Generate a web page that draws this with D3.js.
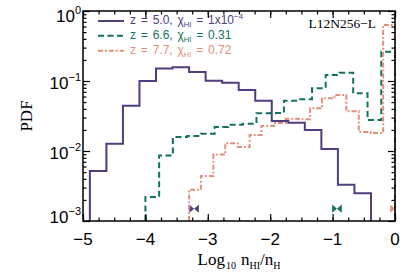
<!DOCTYPE html>
<html>
<head>
<meta charset="utf-8">
<script src="https://cdn.jsdelivr.net/npm/d3@7"></script>
<style>
body { margin: 0; background: #fff; }
svg { display: block; }
</style>
</head>
<body>
<script>
//histogram bin edges (log10 nHI/nH) and PDF values
var purpleEdges = [-4.89, -4.625, -4.36, -4.095, -3.83, -3.565, -3.30, -3.035, -2.77, -2.505, -2.24, -1.975, -1.71, -1.445, -1.18, -0.915, -0.65, -0.385];
var purpleValues = [0.0052, 0.0127, 0.0444, 0.100, 0.151, 0.157, 0.134, 0.101, 0.0946, 0.0744, 0.0523, 0.0268, 0.0254, 0.0200, 0.0107, 0.0033, 0.0025];

var greenEdges = [-4, -3.78, -3.56, -3.33, -3.11, -2.89, -2.67, -2.44, -2.22, -2.0, -1.78, -1.56, -1.33, -1.11, -0.89, -0.67, -0.44, -0.22, 0];
var greenValues = [0.0022, 0.0086, 0.0158, 0.0164, 0.0177, 0.0220, 0.0237, 0.0245, 0.0346, 0.0348, 0.0523, 0.0548, 0.0786, 0.122, 0.131, 0.0667, 0.0277, 0.262];

var orangeEdges = [-3.30, -3.11, -2.91, -2.72, -2.52, -2.33, -2.14, -1.94, -1.75, -1.55, -1.36, -1.17, -0.97, -0.78, -0.58, -0.39, -0.19, 0];
var orangeValues = [0.0028, 0.0044, 0.0089, 0.0129, 0.0114, 0.0169, 0.0228, 0.0251, 0.0290, 0.0285, 0.0407, 0.0566, 0.063, 0.0370, 0.0187, 0.0181, 0.631];

//legend entries
var redshifts = ["5.0", "6.6", "7.7"];
var xHI = ["1x10", "0.31", "0.72"];
var xHIexp = ["\u22124", "", ""];

//bow-tie markers along the bottom
var markerX = [-3.22, -0.93, 0.0];
var markerY = 0.0015;

//axes
var xTicks = [-5, -4, -3, -2, -1, 0];
var yTicks = [1e-3, 1e-2, 1e-1, 1];
var yTickExp = ["\u22123", "\u22122", "\u22121", "0"];

var colors = ["#4f3d7f", "#12735c", "#e2907c"];
var dashes = [null, "6,3.5", "5,2,1.8,2"];

var width = 415, height = 277;
var margin = {left: 83, right: 20, top: 11, bottom: 56};
var sans = "'Liberation Sans', Arial, sans-serif";
var serif = "'Liberation Serif', 'Times New Roman', serif";

var svg = d3.select("body").append("svg")
    .attr("width", width)
    .attr("height", height);

var x = d3.scaleLinear().domain([-5, 0]).range([margin.left, width - margin.right]);
var y = d3.scaleLog().domain([1e-3, 1]).range([height - margin.bottom, margin.top]);

var x0 = x.range()[0], x1 = x.range()[1];
var yb = y.range()[0], yt = y.range()[1];

svg.append("clipPath").attr("id", "plotClip")
    .append("rect")
    .attr("x", x0).attr("y", yt)
    .attr("width", x1 - x0).attr("height", yb - yt);

//step histogram as a path
function stepPoints(edges, values) {
    var pts = [[edges[0], null]];
    values.forEach(function(v, i) {
        pts.push([edges[i], v]);
        pts.push([edges[i + 1], v]);
    });
    pts.push([edges[edges.length - 1], null]);
    return pts;
}
var line = d3.line()
    .x(function(d) { return x(d[0]); })
    .y(function(d) { return d[1] === null ? yb : y(d[1]); });

var series = [
    [purpleEdges, purpleValues],
    [greenEdges, greenValues],
    [orangeEdges, orangeValues]
];

//markers (under the lines, clipped to frame)
svg.append("g").attr("clip-path", "url(#plotClip)")
    .selectAll("path")
    .data(markerX)
    .enter()
    .append("path")
    .attr("d", function(d) {
        var cx = x(d), cy = y(markerY), w = 4.8, h = 4.2;
        return "M" + (cx - w) + "," + (cy - h) + "L" + cx + "," + cy + "L" + (cx - w) + "," + (cy + h) + "Z" +
               "M" + (cx + w) + "," + (cy - h) + "L" + cx + "," + cy + "L" + (cx + w) + "," + (cy + h) + "Z";
    })
    .style("fill", function(d, i) { return colors[i]; });

svg.append("g").selectAll("path.hist")
    .data(series)
    .enter()
    .append("path")
    .attr("class", "hist")
    .attr("d", function(d) { return line(stepPoints(d[0], d[1])); })
    .style("fill", "none")
    .style("stroke", function(d, i) { return colors[i]; })
    .style("stroke-width", 2)
    .style("stroke-dasharray", function(d, i) { return dashes[i]; });

//ticks on all four sides, pointing inwards
var xMinor = d3.range(-5, 0.001, 0.25);
var yMinor = [];
[1e-3, 1e-2, 1e-1].forEach(function(b) {
    for (var k = 2; k <= 9; k++) yMinor.push(b * k);
});

function tickGroup(axis, tx, ty) {
    var g = svg.append("g").attr("transform", "translate(" + tx + "," + ty + ")").call(axis);
    g.select(".domain").remove();
    g.selectAll("text").remove();
    g.selectAll("line").style("stroke", "#000").style("stroke-width", 1.2);
}
tickGroup(d3.axisBottom(x).tickValues(xMinor).tickSize(-3.5), 0, yb);
tickGroup(d3.axisBottom(x).tickValues(xTicks).tickSize(-7), 0, yb);
tickGroup(d3.axisTop(x).tickValues(xMinor).tickSize(-3.5), 0, yt);
tickGroup(d3.axisTop(x).tickValues(xTicks).tickSize(-7), 0, yt);
tickGroup(d3.axisLeft(y).tickValues(yMinor).tickSize(-3.5), x0, 0);
tickGroup(d3.axisLeft(y).tickValues(yTicks).tickSize(-7), x0, 0);
tickGroup(d3.axisRight(y).tickValues(yMinor).tickSize(-3.5), x1, 0);
tickGroup(d3.axisRight(y).tickValues(yTicks).tickSize(-7), x1, 0);

//frame
svg.append("rect")
    .attr("x", x0).attr("y", yt)
    .attr("width", x1 - x0).attr("height", yb - yt)
    .style("fill", "none")
    .style("stroke", "#000")
    .style("stroke-width", 1.5);

//x tick labels
svg.append("g").selectAll("text")
    .data(xTicks)
    .enter()
    .append("text")
    .attr("x", function(d) { return x(d); })
    .attr("y", yb + 24)
    .attr("text-anchor", "middle")
    .style("font-family", sans)
    .style("font-size", "17px")
    .text(function(d) { return d < 0 ? "\u2212" + Math.abs(d) : d; });

//y tick labels: 10^n
var yLabels = svg.append("g").selectAll("text")
    .data(yTicks)
    .enter()
    .append("text")
    .attr("x", x0 - 2)
    .attr("y", function(d) {
        return Math.max(yt + 10.7, Math.min(yb + 1.6, y(d) + 7.8));
    })
    .attr("text-anchor", "end")
    .style("font-family", sans)
    .style("font-size", "17px");
yLabels.append("tspan").text("10");
yLabels.append("tspan")
    .attr("dy", -7.5)
    .style("font-size", "11px")
    .text(function(d, i) { return yTickExp[i]; });

//axis titles
svg.append("text")
    .attr("transform", "translate(32," + ((yt + yb) / 2) + ") rotate(-90)")
    .attr("text-anchor", "middle")
    .style("font-family", serif)
    .style("font-size", "17px")
    .text("PDF");

var xt = svg.append("text")
    .attr("x", (x0 + x1) / 2)
    .attr("y", 265)
    .attr("text-anchor", "middle")
    .style("font-family", serif)
    .style("font-size", "17px");
xt.append("tspan").text("Log");
xt.append("tspan").attr("dy", 4).attr("dx", 1).style("font-size", "10px").text("10");
xt.append("tspan").attr("dy", -4).attr("dx", 5).text("n");
xt.append("tspan").attr("dy", 4).style("font-size", "10px").text("HI");
xt.append("tspan").attr("dy", -4).text("/n");
xt.append("tspan").attr("dy", 4).style("font-size", "10px").text("H");

//run label
svg.append("text")
    .attr("x", 376)
    .attr("y", 28.3)
    .attr("text-anchor", "end")
    .style("font-family", serif)
    .style("font-size", "13.5px")
    .text("L12N256\u2212L");

//legend
var legendY = [21, 35.8, 50.7];
var legend = svg.append("g").selectAll("g")
    .data(redshifts)
    .enter()
    .append("g");
legend.append("line")
    .attr("x1", 98).attr("x2", 124)
    .attr("y1", function(d, i) { return legendY[i]; })
    .attr("y2", function(d, i) { return legendY[i]; })
    .style("stroke", function(d, i) { return colors[i]; })
    .style("stroke-width", 2)
    .style("stroke-dasharray", function(d, i) { return dashes[i]; });
var lt = legend.append("text")
    .attr("x", 130)
    .attr("y", function(d, i) { return legendY[i] + 2.8; })
    .style("font-family", sans)
    .style("font-size", "12px")
    .style("word-spacing", "1.5px")
    .style("fill", function(d, i) { return colors[i]; });
lt.append("tspan").text(function(d) { return "z = " + d + ", \u03c7"; });
lt.append("tspan").attr("dy", 3).style("font-size", "7.5px").text("HI");
lt.append("tspan").attr("dy", -3).text(function(d, i) { return " = " + xHI[i]; });
lt.append("tspan").attr("dy", -5).style("font-size", "8px").text(function(d, i) { return xHIexp[i]; });
</script>
</body>
</html>
